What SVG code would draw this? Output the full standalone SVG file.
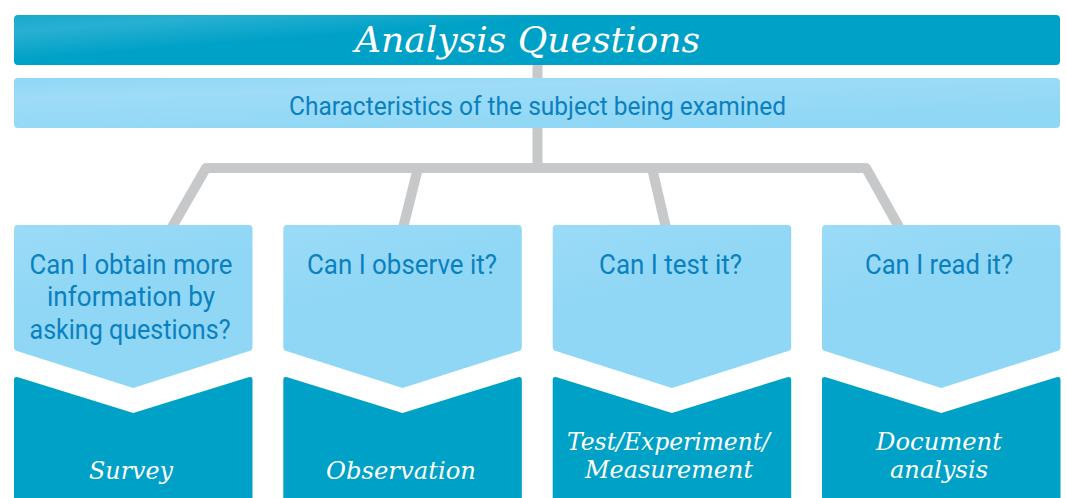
<svg xmlns="http://www.w3.org/2000/svg" width="1066" height="498" viewBox="0 0 1066 498">
  <defs>
    <linearGradient id="gDark" x1="0" y1="0" x2="1" y2="0.6">
      <stop offset="0" stop-color="#1aa9cc"/>
      <stop offset="0.15" stop-color="#28b0d2"/>
      <stop offset="0.4" stop-color="#00a1c7"/>
      <stop offset="1" stop-color="#00a1c7"/>
    </linearGradient>
    <linearGradient id="gLight" x1="0" y1="0" x2="0.6" y2="1">
      <stop offset="0" stop-color="#8fd7f5"/>
      <stop offset="0.3" stop-color="#9edcf7"/>
      <stop offset="1" stop-color="#8ed7f5"/>
    </linearGradient>
    <linearGradient id="gBox" x1="0" y1="0" x2="0.4" y2="1">
      <stop offset="0" stop-color="#9bdbf7"/>
      <stop offset="0.5" stop-color="#8fd7f5"/>
      <stop offset="1" stop-color="#8fd7f5"/>
    </linearGradient>
  </defs>
  <style>
    .conn { fill: none; stroke: #c7c8ca; stroke-width: 10; stroke-linejoin: round; stroke-linecap: butt; }
    .dark { fill: #00a1c6; }
    .light { fill: url(#gBox); }
    .serif { font-family: "DejaVu Serif", "Liberation Serif", serif; font-style: italic; fill: #ffffff; text-anchor: middle; }
    .sans { font-family: Roboto, "Noto Sans", "Liberation Sans", sans-serif; fill: #0b80bf; text-anchor: middle; }
    .q { font-size: 27px; }
    .m { font-size: 25px; }
  </style>

  <g id="connectors">
    <path class="conn" d="M537.5,60 V168"/>
    <path class="conn" d="M171.5,228 L206,168 H866 L899.5,228"/>
    <path class="conn" d="M418,168 L403,228"/>
    <path class="conn" d="M652,168 L666,228"/>
  </g>

  <g id="title">
    <rect x="14" y="15" width="1046" height="50" rx="4" fill="url(#gDark)"/>
    <text class="serif" x="527.5" y="52" font-size="36" textLength="345" lengthAdjust="spacingAndGlyphs">Analysis Questions</text>
  </g>

  <g id="subject">
    <rect x="14" y="78" width="1046" height="50" rx="4" fill="url(#gLight)"/>
    <text class="sans" x="537.5" y="115" font-size="25" textLength="497" lengthAdjust="spacingAndGlyphs">Characteristics of the subject being examined</text>
  </g>

  <g id="q-survey">
    <path class="light" d="M18,225 H248.5 Q252.5,225 252.5,229 V347 Q252.5,350 249.5,351 L133.25,388 L17,351 Q14,350 14,347 V229 Q14,225 18,225 Z"/>
    <text class="sans q" x="131" y="273.5" textLength="203" lengthAdjust="spacingAndGlyphs">Can I obtain more</text>
    <text class="sans q" x="131" y="306" textLength="168" lengthAdjust="spacingAndGlyphs">information by</text>
    <text class="sans q" x="130" y="338.5" textLength="201" lengthAdjust="spacingAndGlyphs">asking questions?</text>
  </g>
  <g id="m-survey">
    <path class="dark" d="M14,380 Q14,376 18,377.3 L133.25,413 L248.5,377.3 Q252.5,376 252.5,380 V510 H14 Z"/>
    <text class="serif m" x="131" y="479" textLength="84" lengthAdjust="spacingAndGlyphs">Survey</text>
  </g>

  <g id="q-observation">
    <path class="light" d="M287.3,225 H517.8 Q521.8,225 521.8,229 V347 Q521.8,350 518.8,351 L402.55,388 L286.3,351 Q283.3,350 283.3,347 V229 Q283.3,225 287.3,225 Z"/>
    <text class="sans q" x="402" y="273.5" textLength="190" lengthAdjust="spacingAndGlyphs">Can I observe it?</text>
  </g>
  <g id="m-observation">
    <path class="dark" d="M283.3,380 Q283.3,376 287.3,377.3 L402.55,413 L517.8,377.3 Q521.8,376 521.8,380 V510 H283.3 Z"/>
    <text class="serif m" x="401" y="479" textLength="150" lengthAdjust="spacingAndGlyphs">Observation</text>
  </g>

  <g id="q-test">
    <path class="light" d="M556.7,225 H787.2 Q791.2,225 791.2,229 V347 Q791.2,350 788.2,351 L671.95,388 L555.7,351 Q552.7,350 552.7,347 V229 Q552.7,225 556.7,225 Z"/>
    <text class="sans q" x="670.5" y="273.5" textLength="143" lengthAdjust="spacingAndGlyphs">Can I test it?</text>
  </g>
  <g id="m-test">
    <path class="dark" d="M552.7,380 Q552.7,376 556.7,377.3 L671.95,413 L787.2,377.3 Q791.2,376 791.2,380 V510 H552.7 Z"/>
    <text class="serif m" x="668.5" y="450" textLength="203" lengthAdjust="spacingAndGlyphs">Test/Experiment/</text>
    <text class="serif m" x="669" y="478" textLength="168" lengthAdjust="spacingAndGlyphs">Measurement</text>
  </g>

  <g id="q-document">
    <path class="light" d="M826,225 H1056.5 Q1060.5,225 1060.5,229 V347 Q1060.5,350 1057.5,351 L941.25,388 L825,351 Q822,350 822,347 V229 Q822,225 826,225 Z"/>
    <text class="sans q" x="939" y="273.5" textLength="148" lengthAdjust="spacingAndGlyphs">Can I read it?</text>
  </g>
  <g id="m-document">
    <path class="dark" d="M822,380 Q822,376 826,377.3 L941.25,413 L1056.5,377.3 Q1060.5,376 1060.5,380 V510 H822 Z"/>
    <text class="serif m" x="939" y="450" textLength="126" lengthAdjust="spacingAndGlyphs">Document</text>
    <text class="serif m" x="939" y="478" textLength="98" lengthAdjust="spacingAndGlyphs">analysis</text>
  </g>
</svg>
